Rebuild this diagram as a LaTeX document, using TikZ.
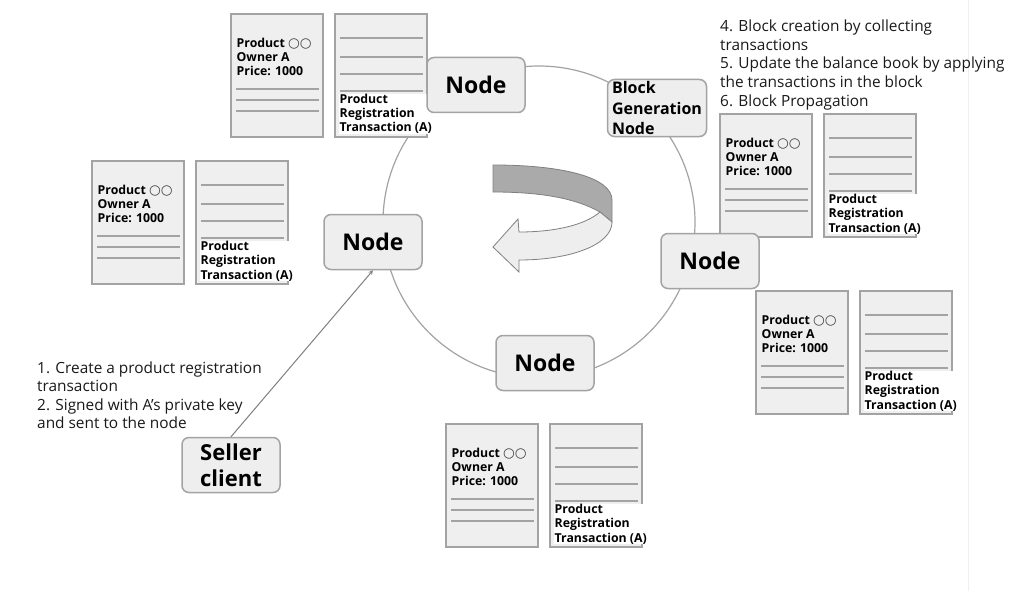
\documentclass[tikz,border=0pt]{standalone}
\usepackage{fontspec}
\setmainfont{Open Sans}
\newfontfamily\circfont{DejaVu Sans}
\usepackage{xcolor}
\usetikzlibrary{arrows}
\definecolor{boxgray}{HTML}{A3A3A3}
\definecolor{boxfill}{HTML}{EEEEEE}
\definecolor{docfill}{HTML}{EFEFEF}
\definecolor{bandgray}{HTML}{AAAAAA}
\definecolor{inkgray}{HTML}{1A1A1A}

\tikzset{
  blk/.style={draw=boxgray, fill=boxfill, rounded corners=7pt, line width=1.5pt,
    minimum width=98pt, minimum height=55pt, font=\fontsize{23}{26}\selectfont\bfseries},
  doc/.style={draw=boxgray, fill=docfill, line width=1.5pt},
  docline/.style={draw=boxgray, line width=1.8pt},
  doctxt/.style={anchor=west, align=left, inner sep=0.5pt, font=\fontsize{12.3}{14.3}\selectfont\bfseries},
  note/.style={anchor=west, align=left, inner sep=0pt, text=inkgray, font=\fontsize{15.4}{18.5}\selectfont}
}

\begin{document}
\begin{tikzpicture}[x=1pt,y=-1pt]
\useasboundingbox (0,0) rectangle (1019,591);
\fill[white] (0,0) rectangle (1019,591);
\draw[gray!12] (968,0) -- (968,591);
\coordinate (O) at (539,222);
\draw[boxgray, line width=1.2pt] (O) circle (156pt);

\foreach \x/\y [count=\i] in {231/14, 92/161, 720/114, 756/291, 446/424} {
  \draw[doc] (\x,\y) rectangle ++(92,123);
  \draw[doc] (\x+104,\y) rectangle ++(92,123);
  \foreach \d in {75,86,97} \draw[docline] (\x+5,\y+\d) -- ++(83,0);
  \foreach \d in {24,43,60,77} \draw[docline] (\x+109,\y+\d) -- ++(83,0);
  \node[doctxt] (rec\i) at (\x+5,\y+43) {Product {\circfont\mdseries\fontsize{13.5}{14}\selectfont\color{darkgray}○○}\\Owner A\\Price: 1000};
  \node[doctxt, fill=white] (tx\i) at (\x+108,\y+100) {Product\\Registration\\Transaction (A)};
}

\filldraw[fill=bandgray, draw=gray, line width=0.8pt] (493,165) .. controls (565,165) and (612,178) .. (612,200)
  -- (612,222) -- (600,212) .. controls (575,198) and (540,192) .. (493,192) -- cycle;
\filldraw[fill=boxfill, draw=gray, line width=0.8pt] (600,212) .. controls (585,225) and (555,232) .. (519,232)
  -- (518,219) -- (493,247) -- (519,272) -- (519,260) .. controls (570,260) and (612,245) .. (612,222) -- cycle;

\node[blk] (N1) at (476,85) {Node};
\node[blk, align=left, inner sep=2pt, minimum width=99pt, minimum height=57pt,
  font=\fontsize{16}{20}\selectfont\bfseries] (B) at (657,108) {Block\\Generation\\Node};
\node[blk] (N2) at (373,242) {Node};
\node[blk] (N3) at (710,261) {Node};
\node[blk] (N4) at (545,363) {Node};
\node[blk, align=center, font=\fontsize{22}{26}\selectfont\bfseries] (S) at (231,465) {Seller\\client};

\draw[-stealth, gray, line width=1pt] (S.north) -- (N2.south);

\node[note] (T1) at (720,65) {4. Block creation by collecting\\transactions\\5. Update the balance book by applying\\the transactions in the block\\6. Block Propagation};
\node[note] (T2) at (37,395) {1. Create a product registration\\transaction\\2. Signed with A's private key\\and sent to the node};
\end{tikzpicture}
\end{document}
